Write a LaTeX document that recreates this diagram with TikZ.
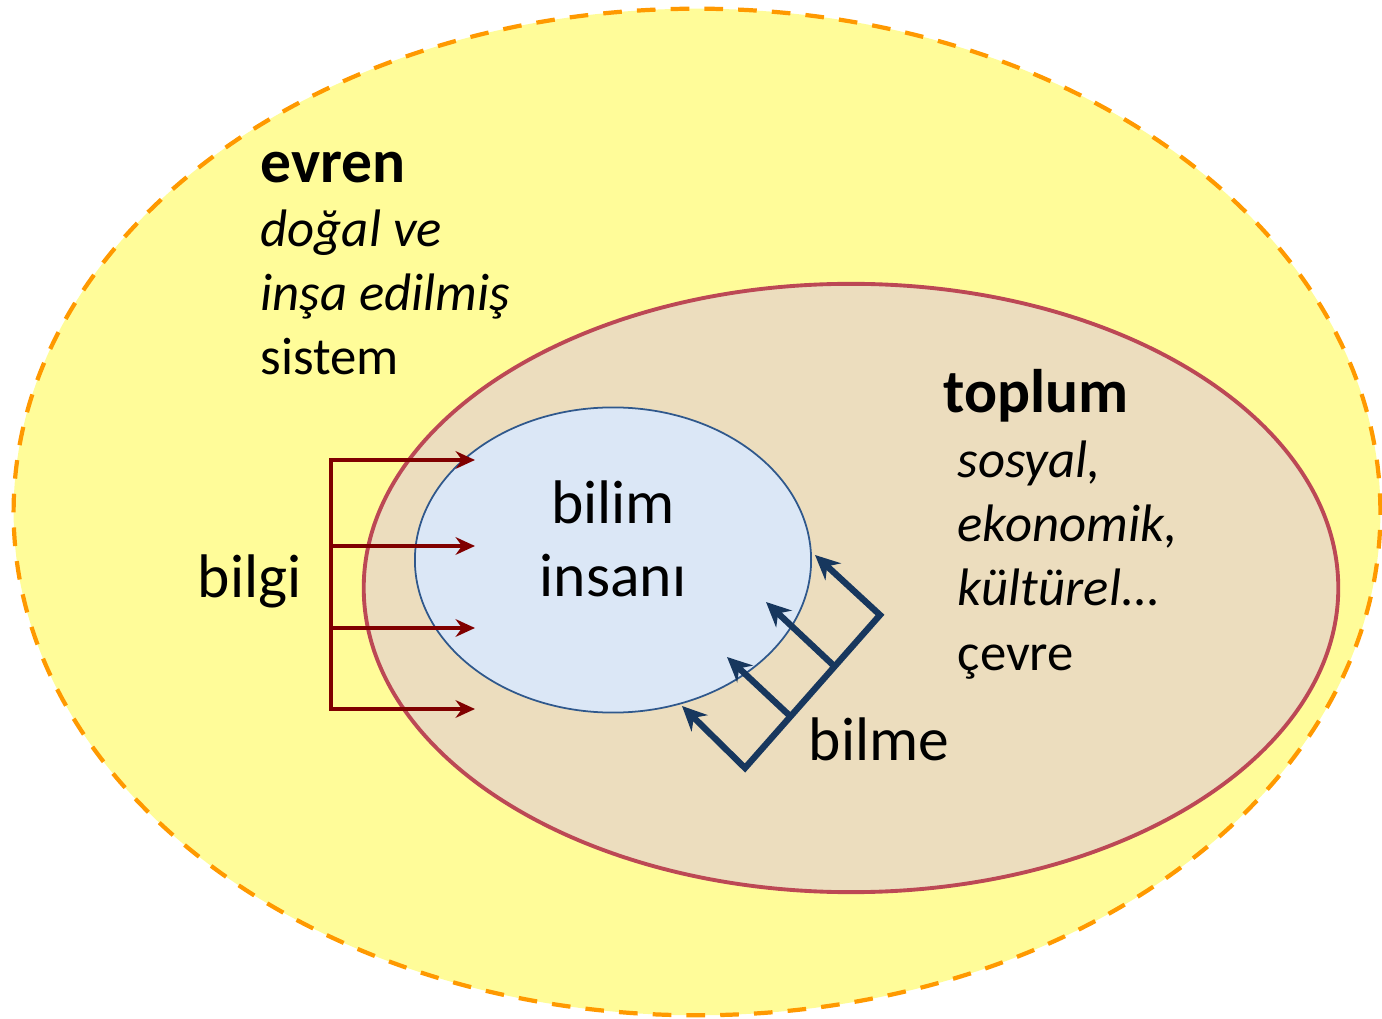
\documentclass[tikz,border=0pt]{standalone}
\usepackage{fontspec}
\setmainfont{Carlito}
\usetikzlibrary{shapes.geometric,arrows.meta}
\definecolor{evrensari}{RGB}{255,252,153}
\definecolor{evrenturuncu}{RGB}{255,153,0}
\definecolor{toplumten}{RGB}{236,221,190}
\definecolor{toplumkenar}{RGB}{188,72,85}
\definecolor{insanmavi}{RGB}{219,231,246}
\definecolor{insankenar}{RGB}{47,88,140}
\definecolor{bilgikirmizi}{RGB}{128,0,0}
\definecolor{bilmelaci}{RGB}{23,55,94}
\begin{document}
\begin{tikzpicture}[x=0.01cm, y=-0.01cm,
        bolge/.style={ellipse, inner sep=0pt},
        baslik/.style={font=\fontsize{17.5}{20}\selectfont\bfseries, anchor=base west, inner sep=0pt},
        liste/.style={font=\fontsize{15}{18.2}\selectfont, align=left, anchor=base west, inner sep=0pt},
        etiket/.style={font=\fontsize{17.5}{20.8}\selectfont, inner sep=0pt},
        bilgiok/.style={draw=bilgikirmizi, line width=1.3pt, -{Stealth[length=5.5pt,width=5pt]}},
        bilmeok/.style={draw=bilmelaci, line width=1.8pt, line join=miter, -{Stealth[length=7pt,width=6.5pt]}}]
    \useasboundingbox (0,0) rectangle (1382,1019);
    \node[bolge, fill=evrensari, draw=evrenturuncu, line width=1.2pt, dash pattern=on 5.3pt off 4.3pt,
          minimum width=13.66cm, minimum height=10.06cm] (evren) at (697,512) {};
    \node[bolge, fill=toplumten, draw=toplumkenar, line width=1.1pt,
          minimum width=9.74cm, minimum height=6.08cm] (toplum) at (851,588) {};
    \node[bolge, fill=insanmavi, draw=insankenar, line width=0.5pt,
          minimum width=3.96cm, minimum height=3.05cm] (insan) at (613,560) {};

    \node[baslik] (evrenbaslik) at (260,183) {evren};
    \node[liste] (evrenliste) at (260,375) {\itshape doğal ve\\ \itshape inşa edilmiş\\ sistem};
    \node[baslik] (toplumbaslik) at (943,413) {toplum};
    \node[liste] (toplumliste) at (957,670) {\itshape sosyal,\\ \itshape ekonomik,\\ \itshape kültürel...\\ çevre};

    \node[etiket, align=center] (bilim) at (613,539) {bilim\\ insanı};
    \node[etiket, anchor=base west] (bilgi) at (197,598) {bilgi};
    \node[etiket, anchor=base west] (bilme) at (808,760) {bilme};

    \coordinate (k1) at (331,460);
    \coordinate (k2) at (331,546);
    \coordinate (k3) at (331,628);
    \coordinate (k4) at (331,709);
    \draw[bilgiok, {Stealth[length=5.5pt,width=5pt]}-{Stealth[length=5.5pt,width=5pt]}]
        (475,460) -- (k1) -- (k4) -- (475,709);
    \draw[bilgiok] (k2) -- (475,546);
    \draw[bilgiok] (k3) -- (475,628);

    \coordinate (m1) at (745,768);
    \coordinate (m2) at (790,716);
    \coordinate (m3) at (833,665);
    \coordinate (m4) at (880,615);
    \draw[bilmeok, {Stealth[length=7pt,width=6.5pt]}-{Stealth[length=7pt,width=6.5pt]}]
        (682,706) -- (m1) -- (m4) -- (815,555);
    \draw[bilmeok] (m2) -- (727,657);
    \draw[bilmeok] (m3) -- (766,602);
\end{tikzpicture}
\end{document}
